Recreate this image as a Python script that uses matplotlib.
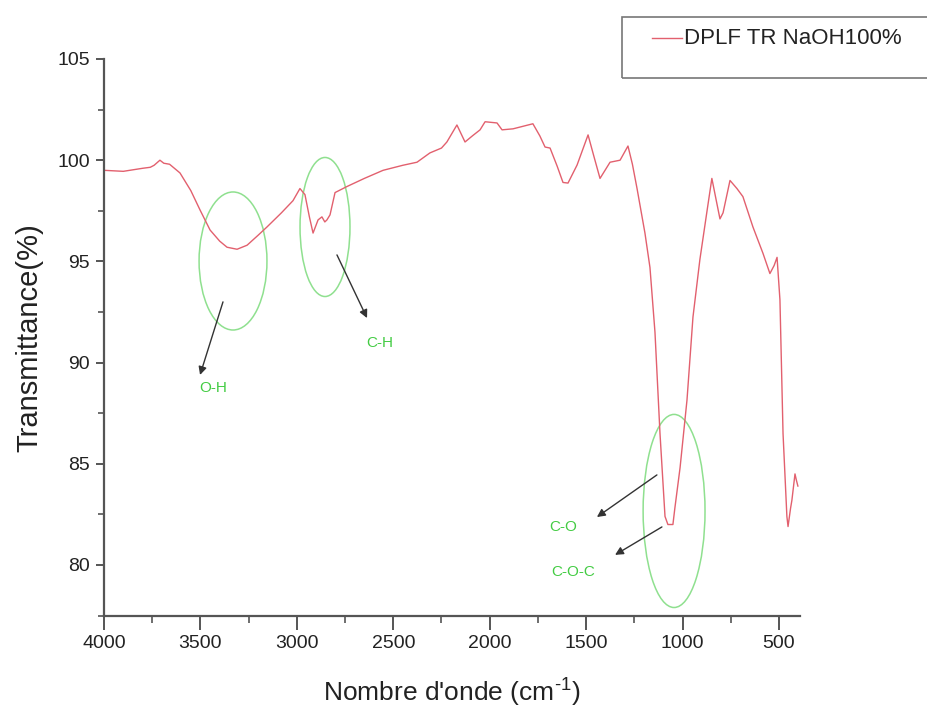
import matplotlib
matplotlib.use("Agg")
import matplotlib.pyplot as plt
from matplotlib.patches import Ellipse, Rectangle
from matplotlib.lines import Line2D
from matplotlib.ticker import MultipleLocator

plt.rcParams['font.family'] = ['Liberation Sans', 'DejaVu Sans']
plt.rcParams['mathtext.fontset'] = 'custom'
plt.rcParams['mathtext.rm'] = 'Liberation Sans'

# Spectrum data (wavenumber cm-1, transmittance %)
wavenumber = [4000, 3900, 3800, 3760, 3740, 3710, 3690, 3660, 3606, 3550, 3502, 3450,
              3400, 3362, 3310, 3258, 3200, 3155, 3080, 3020, 2984, 2958, 2935, 2916,
              2900, 2890, 2870, 2855, 2844, 2828, 2802, 2740, 2650, 2553, 2450, 2377,
              2310, 2250, 2222, 2170, 2128, 2090, 2050, 2024, 1962, 1936, 1879, 1776,
              1740, 1713, 1687, 1650, 1620, 1594, 1547, 1490, 1460, 1428, 1376, 1324,
              1283, 1260, 1236, 1195, 1169, 1143, 1117, 1091, 1076, 1050, 1040, 1013,
              977, 946, 910, 873, 848, 825, 806, 790, 754, 718, 687, 635, 583, 547,
              525, 510, 495, 479, 459, 453, 440, 433, 417, 410, 402]
transmittance = [99.5, 99.45, 99.6, 99.65, 99.75, 100.0, 99.85, 99.8, 99.37, 98.5, 97.54, 96.55,
                 96.0, 95.7, 95.6, 95.8, 96.3, 96.7, 97.4, 98.0, 98.6, 98.3, 97.2, 96.4,
                 96.8, 97.05, 97.2, 96.95, 97.05, 97.3, 98.4, 98.7, 99.1, 99.5, 99.75, 99.9,
                 100.36, 100.6, 100.9, 101.74, 100.9, 101.2, 101.5, 101.9, 101.84, 101.5, 101.55, 101.8,
                 101.2, 100.65, 100.6, 99.7, 98.9, 98.87, 99.76, 101.25, 100.2, 99.1, 99.9, 100.0,
                 100.7, 99.8, 98.6, 96.4, 94.7, 91.5, 86.5, 82.4, 82.0, 82.0, 82.8, 84.8,
                 88.15, 92.25, 95.1, 97.5, 99.1, 98.0, 97.1, 97.4, 99.0, 98.6, 98.2, 96.7, 95.4, 94.4,
                 94.8, 95.2, 93.1, 86.5, 82.4, 81.9, 82.8, 83.2, 84.5, 84.2, 83.9]

series_label = "DPLF TR NaOH100%"

# Band annotations: (label, ellipse center x, center y, width, height)
bands = [
    ("O-H", 3331, 95.02, 352, 6.82),
    ("C-H", 2854, 96.70, 259, 6.87),
    ("C-O", 1044, 82.67, 321, 9.54),
]
# arrows: (start x, start y, end x, end y)
arrows = [
    (3383, 93.0, 3502, 89.39),
    (2792, 95.32, 2636, 92.2),
    (1133, 84.45, 1444, 82.37),
    (1107, 81.88, 1350, 80.5),
]
# text labels: (text, x, y)
labels = [
    ("O-H", 3435, 88.75),
    ("C-H", 2569, 90.97),
    ("C-O", 1620, 81.88),
    ("C-O-C", 1568, 79.65),
]

fig = plt.figure(figsize=(9.28, 7.2), dpi=100)
ax = fig.add_axes([104/928, 104/720, 696/928, 557/720])

line_color = '#e2606e'
ax.plot(wavenumber, transmittance, color=line_color, lw=1.0)

ax.set_xlim(4000, 391)
ax.set_ylim(77.48, 105.0)

for s in ['top', 'right']:
    ax.spines[s].set_visible(False)
for s in ['left', 'bottom']:
    ax.spines[s].set_color('#555555')
    ax.spines[s].set_linewidth(1.6)

ax.xaxis.set_major_locator(MultipleLocator(500))
ax.xaxis.set_minor_locator(MultipleLocator(250))
ax.yaxis.set_major_locator(MultipleLocator(5))
ax.yaxis.set_minor_locator(MultipleLocator(2.5))
ax.set_xticks(range(4000, 499, -500))
ax.tick_params(axis='x', which='major', length=10, width=1.4, color='#555555', labelsize=14, pad=4, labelcolor='#222222')
ax.tick_params(axis='x', which='minor', length=5, width=1.2, color='#555555')
ax.tick_params(axis='y', which='major', length=6, width=1.4, color='#555555', labelsize=14, pad=4, labelcolor='#222222')
ax.tick_params(axis='y', which='minor', length=4, width=1.2, color='#555555')

ax.set_xlabel(r"Nombre d'onde (cm$^{\text{-1}}$)", fontsize=19, labelpad=16, color='#222222')
ax.set_ylabel("Transmittance(%)", fontsize=21, labelpad=10, color='#222222')

green_line = '#8fe08f'
green_text = '#44cc44'
for name, cx, cy, w, h in bands:
    ax.add_patch(Ellipse((cx, cy), w, h, fill=False, edgecolor=green_line, lw=1.1))

for x0, y0, x1, y1 in arrows:
    ax.annotate('', xy=(x1, y1), xytext=(x0, y0),
                arrowprops=dict(arrowstyle='-|>', color='#333333', lw=1.0,
                                mutation_scale=12, shrinkA=0, shrinkB=0))

for t, x, y in labels:
    ax.text(x, y, t, color=green_text, fontsize=11, ha='center', va='center')

# Legend box (Origin style, cut at the right edge)
fig.patches.append(Rectangle((622/928, 1 - 78/720), 320/928, 61/720,
                             transform=fig.transFigure, fill=False,
                             edgecolor='#777777', lw=1.2))
fig.lines.append(Line2D([652/928, 682/928], [1 - 38/720, 1 - 38/720],
                        transform=fig.transFigure, color=line_color, lw=1.0))
fig.text(684/928, 1 - 38/720, series_label, fontsize=16, va='center', ha='left', color='#222222')

fig.savefig('out.png', dpi=100)
